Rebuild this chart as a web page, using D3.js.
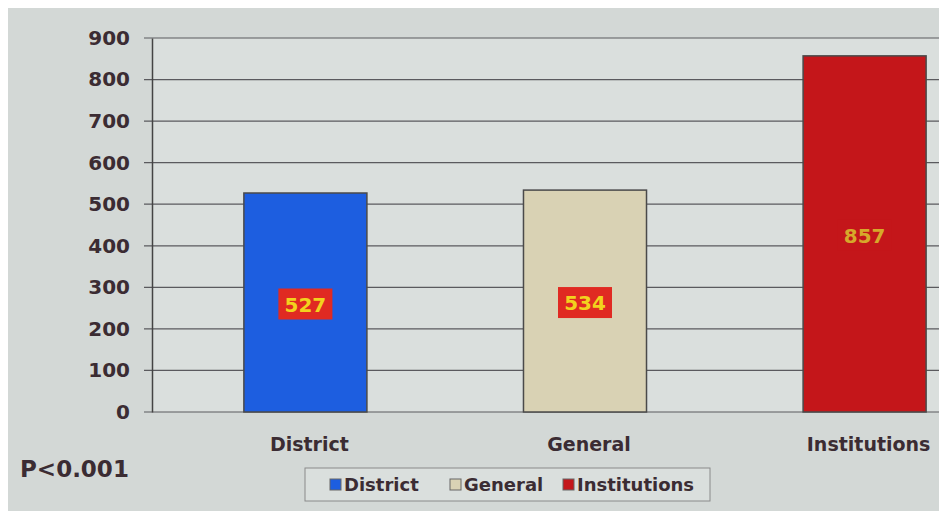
<!DOCTYPE html>
<html>
<head>
<meta charset="utf-8">
<script src="https://cdn.jsdelivr.net/npm/d3@7"></script>
<style>
  body { margin: 0; background: #ffffff; }
  svg { display: block; }
  text { font-family: "DejaVu Sans", Verdana, sans-serif; font-weight: bold; }
</style>
</head>
<body>
<div id="chartDivId"></div>
<script>
// chart data
const categories = ["District", "General", "Institutions"];
const values = [527, 534, 857];
const yTicks = [0, 100, 200, 300, 400, 500, 600, 700, 800, 900];
const note = "P<0.001";

const canvas = { width: 939, height: 511 };
const colors = { District: "#1d5ee0", General: "#d9d2b4", Institutions: "#c4161a" };

const svg = d3.select("#chartDivId")
    .append("svg")
    .attr("width", canvas.width)
    .attr("height", canvas.height);

// slide background
svg.append("rect")
    .attr("x", 8).attr("y", 8)
    .attr("width", canvas.width - 8).attr("height", canvas.height - 8)
    .attr("fill", "#d3d8d6");

var x = d3.scaleBand().domain(categories).range([160, 1010]).paddingInner(0.56).paddingOuter(0.3);
var y = d3.scaleLinear().domain([0, 900]).range([412, 38]);

// plot area
svg.append("rect")
    .attr("x", 152).attr("y", y(900))
    .attr("width", canvas.width - 152).attr("height", y(0) - y(900))
    .attr("fill", "#dadfdd");

// gridlines
svg.append("g")
    .selectAll("line")
    .data(yTicks)
    .enter().append("line")
    .attr("x1", 144).attr("x2", canvas.width)
    .attr("y1", d => y(d)).attr("y2", d => y(d))
    .style("stroke", "#5a5a5e")
    .style("stroke-width", 1.2);

// left axis
var yAxis = d3.axisLeft(y).tickValues(yTicks).tickSize(0).tickPadding(22);
var yg = svg.append("g")
    .attr("transform", "translate(152,0)")
    .call(yAxis);
yg.select(".domain").style("stroke", "#444").style("stroke-width", 1.5);
yg.selectAll("text")
    .style("font-size", "20px")
    .style("font-weight", "bold")
    .style("font-family", "'DejaVu Sans', Verdana, sans-serif")
    .style("fill", "#3b2c33");

// bars
svg.selectAll(".bar")
    .data(categories)
    .enter().append("rect")
    .attr("class", "bar")
    .attr("x", d => x(d))
    .attr("y", (d, i) => y(values[i]))
    .attr("width", x.bandwidth())
    .attr("height", (d, i) => y(0) - y(values[i]))
    .style("fill", d => colors[d])
    .style("stroke", "#4a4a4a")
    .style("stroke-width", 1.5);

// value labels
var labels = svg.selectAll(".vlabel")
    .data(categories)
    .enter().append("g")
    .attr("class", "vlabel")
    .attr("transform", (d, i) => "translate(" + (x(d) + x.bandwidth() / 2) + "," + (y(values[i] / 2) + 2) + ")");

labels.append("rect")
    .attr("x", -27).attr("y", -16)
    .attr("width", 54).attr("height", 31)
    .style("fill", d => d === "Institutions" ? colors[d] : "#e02a22");

labels.append("text")
    .attr("text-anchor", "middle")
    .attr("dy", ".35em")
    .style("font-size", "20px")
    .style("fill", d => d === "Institutions" ? "#d6a82a" : "#f2d21e")
    .text((d, i) => values[i]);

// category labels
svg.append("g")
    .selectAll("text")
    .data(categories)
    .enter().append("text")
    .attr("x", d => x(d) + x.bandwidth() / 2 + 4)
    .attr("y", 451)
    .attr("text-anchor", "middle")
    .style("font-size", "19px")
    .style("fill", "#3b2c33")
    .text(d => d);

// note
svg.append("text")
    .attr("x", 20).attr("y", 477)
    .style("font-size", "23px")
    .style("fill", "#3b2c33")
    .text(note);

// legend
var legend = svg.append("g").attr("transform", "translate(305,468)");
legend.append("rect")
    .attr("width", 405).attr("height", 33)
    .style("fill", "#dadfdd")
    .style("stroke", "#8a8a8a");

var legendX = [25, 145, 258];
var items = legend.selectAll(".litem")
    .data(categories)
    .enter().append("g")
    .attr("class", "litem")
    .attr("transform", (d, i) => "translate(" + legendX[i] + ",17)");

items.append("rect")
    .attr("x", 0).attr("y", -6)
    .attr("width", 11).attr("height", 11)
    .style("fill", d => colors[d])
    .style("stroke", "#666");

items.append("text")
    .attr("x", 14)
    .attr("dy", ".35em")
    .style("font-size", "18px")
    .style("fill", "#3b2c33")
    .text(d => d);
</script>
</body>
</html>
